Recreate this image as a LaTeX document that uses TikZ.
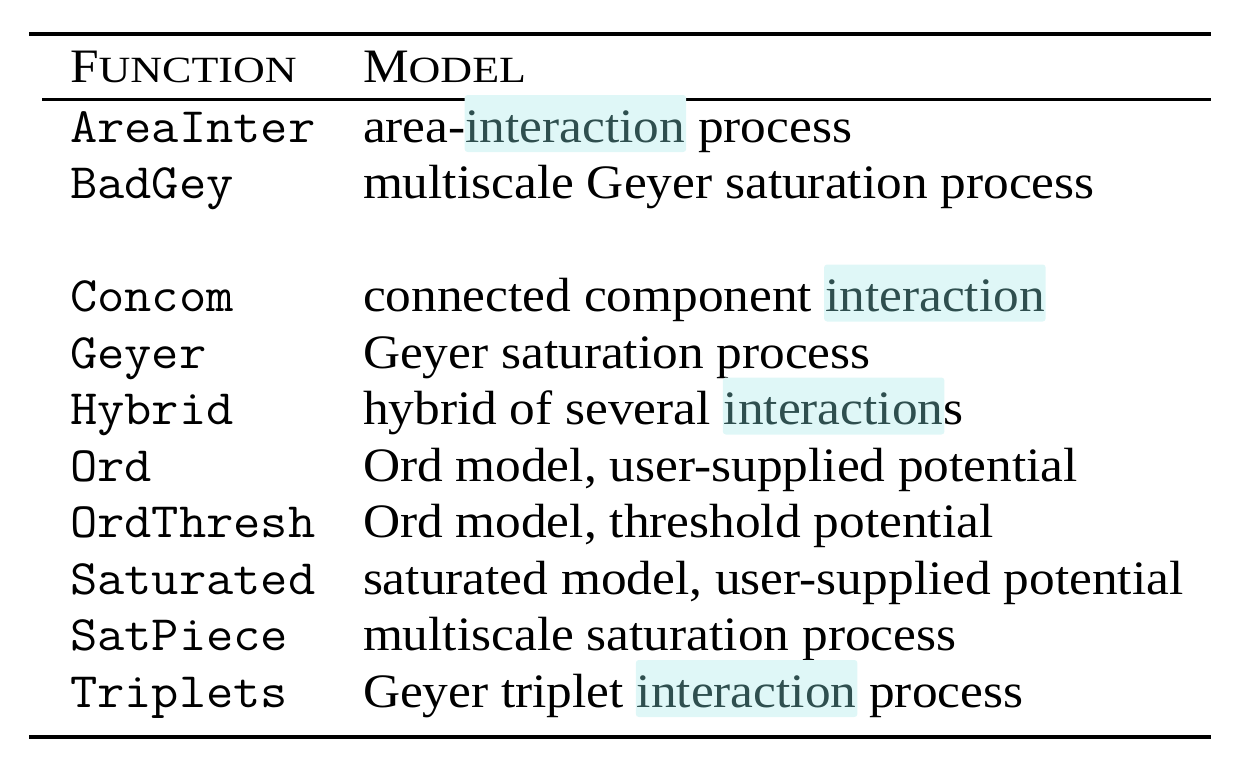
\documentclass[tikz,border=0pt]{standalone}
\usepackage{fontspec}
\setmainfont[FakeStretch=1.07]{Liberation Serif}
\setmonofont[FakeStretch=1.07]{Latin Modern Mono}
\newfontfamily\scfont[FakeStretch=1.19]{Liberation Serif}
\definecolor{hlbg}{RGB}{223,247,247}
\definecolor{hltext}{RGB}{47,79,79}
\tikzset{
  txt/.style={anchor=base west, inner sep=0pt, outer sep=0pt, font=\fontsize{48}{56}\selectfont},
  fn/.style={txt, font=\fontsize{49.5}{56}\selectfont\ttfamily},
  hl/.style={anchor=base west, inner xsep=1pt, inner ysep=0pt, outer sep=0pt, fill=hlbg,
    rounded corners=3pt, text=hltext, text height=47pt, text depth=10pt,
    font=\fontsize{48}{56}\selectfont},
  rulethick/.style={line width=4.5pt},
  rulethin/.style={line width=2.7pt}
}
\newcommand{\smc}[2]{#1{\scfont\fontsize{37}{40}\selectfont #2}}
\begin{document}
\begin{tikzpicture}
\useasboundingbox (0,0) rectangle (1244pt,-771pt);
% rules
\coordinate (t1) at (29pt,-34pt);
\coordinate (t2) at (1211pt,-34pt);
\coordinate (h1) at (42pt,-99.5pt);
\coordinate (h2) at (1211pt,-99.5pt);
\coordinate (b1) at (29pt,-737pt);
\coordinate (b2) at (1211pt,-737pt);
\draw[rulethick] (t1) -- (t2);
\draw[rulethin] (h1) -- (h2);
\draw[rulethick] (b1) -- (b2);
% header
\node[txt] (hf) at (70pt,-82.7pt) {\smc{F}{UNCTION}};
\node[txt] (hm) at (363pt,-82.7pt) {\smc{M}{ODEL}};
% row 0
\node[fn] (f0) at (70pt,-142pt) {AreaInter};
\node[txt] (m0a) at (363pt,-142pt) {area-};
\node[hl] (m0b) at ([xshift=-1pt]m0a.base east) {interaction};
\node[txt] (m0c) at ([xshift=-1pt]m0b.base east) {\ process};
% row 1
\node[fn] (f1) at (70pt,-198.5pt) {BadGey};
\node[txt] (m1) at (363pt,-198.5pt) {multiscale Geyer saturation process};
% row 3
\node[fn] (f3) at (70pt,-311.5pt) {Concom};
\node[txt] (m3a) at (363pt,-311.5pt) {connected component\ \mbox{}};
\node[hl] (m3b) at ([xshift=-1pt]m3a.base east) {interaction};
% row 4
\node[fn] (f4) at (70pt,-368pt) {Geyer};
\node[txt] (m4) at (363pt,-368pt) {Geyer saturation process};
% row 5
\node[fn] (f5) at (70pt,-424.5pt) {Hybrid};
\node[txt] (m5a) at (363pt,-424.5pt) {hybrid of several\ \mbox{}};
\node[hl] (m5b) at ([xshift=-1pt]m5a.base east) {interaction};
\node[txt] (m5c) at ([xshift=-1pt]m5b.base east) {s};
% row 6
\node[fn] (f6) at (70pt,-481pt) {Ord};
\node[txt] (m6) at (363pt,-481pt) {Ord model, user-supplied potential};
% row 7
\node[fn] (f7) at (70pt,-537.5pt) {OrdThresh};
\node[txt] (m7) at (363pt,-537.5pt) {Ord model, threshold potential};
% row 8
\node[fn] (f8) at (70pt,-594pt) {Saturated};
\node[txt] (m8) at (363pt,-594pt) {saturated model, user-supplied potential};
% row 9
\node[fn] (f9) at (70pt,-650.5pt) {SatPiece};
\node[txt] (m9) at (363pt,-650.5pt) {multiscale saturation process};
% row 10
\node[fn] (f10) at (70pt,-707pt) {Triplets};
\node[txt] (m10a) at (363pt,-707pt) {Geyer triplet\ \mbox{}};
\node[hl] (m10b) at ([xshift=-1pt]m10a.base east) {interaction};
\node[txt] (m10c) at ([xshift=-1pt]m10b.base east) {\ process};
\end{tikzpicture}
\end{document}
